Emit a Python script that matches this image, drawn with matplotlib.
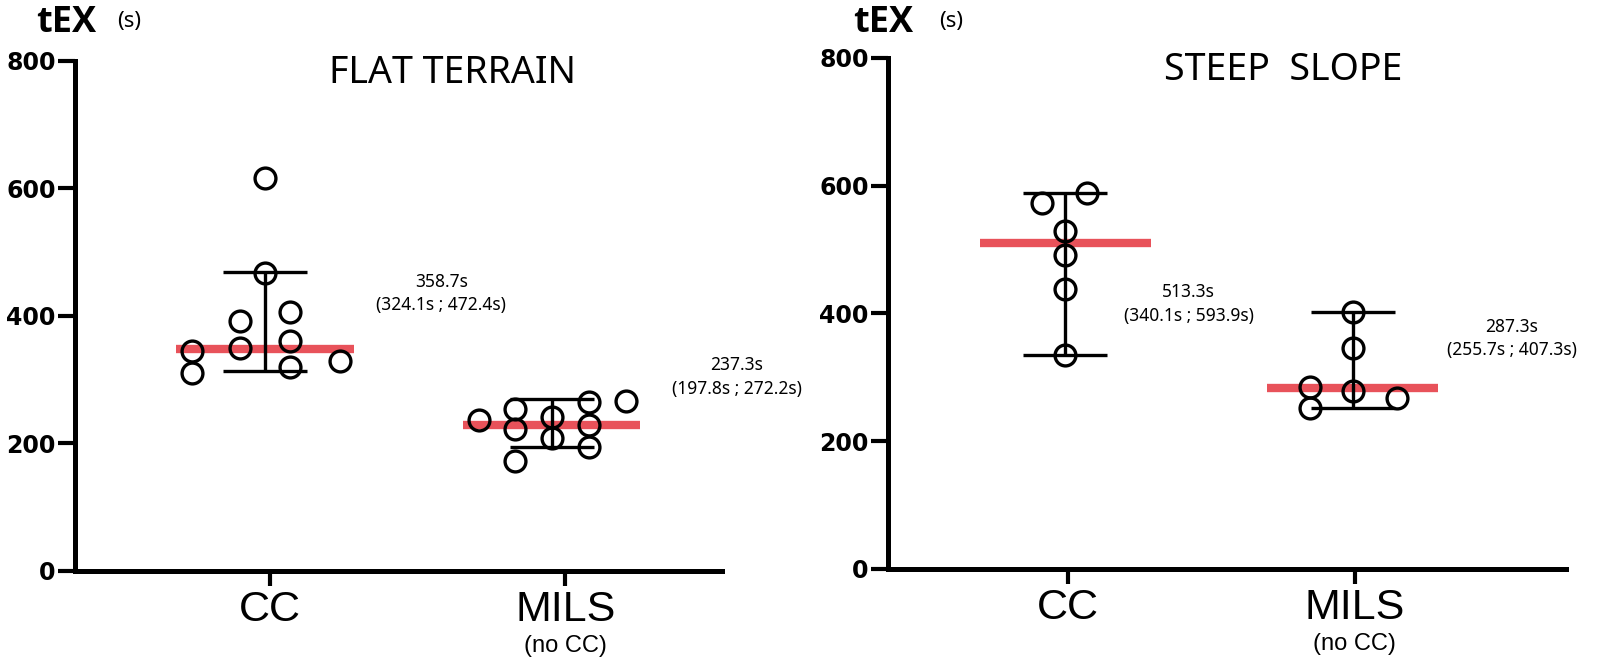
import matplotlib.pyplot as plt
import numpy as np

groups = ['CC', 'MILS']

# flat terrain
flat_cc = [616, 467, 392, 406, 350, 361, 345, 310, 320, 329]
flat_cc_dx = [-0.017, -0.017, -0.101, 0.068, -0.101, 0.068, -0.264, -0.264, 0.068, 0.236]
flat_mils = [237, 254, 223, 241, 209, 265, 229, 195, 267, 173]
flat_mils_dx = [-0.294, -0.172, -0.172, -0.047, -0.047, 0.081, 0.081, 0.081, 0.206, -0.172]
flat_median = [348, 229]
flat_low = [314, 195]
flat_high = [469, 270]
flat_notes = ['358.7s\n(324.1s ; 472.4s)', '237.3s\n(197.8s ; 272.2s)']

# steep slope
steep_cc = [588, 573, 529, 491, 438, 335]
steep_cc_dx = [0.066, -0.091, -0.010, -0.010, -0.010, -0.010]
steep_mils = [402, 346, 279, 285, 252, 268]
steep_mils_dx = [-0.007, -0.007, -0.007, -0.157, -0.157, 0.147]
steep_median = [510, 283]
steep_low = [335, 252]
steep_high = [588, 402]
steep_notes = ['513.3s\n(340.1s ; 593.9s)', '287.3s\n(255.7s ; 407.3s)']

RED = '#e8525a'
FONT = ['Liberation Sans Narrow', 'Liberation Sans', 'DejaVu Sans']


def panel(ax, pts, dxs, median, low, high, notes, title, centers, note_pos, xlim):
    for i, (vals, dx) in enumerate(zip(pts, dxs)):
        x0 = i + 1
        c = x0 + centers[i]
        ax.hlines(median[i], c - 0.3, c + 0.3, color=RED, lw=6, zorder=1)
        ax.errorbar([c], [median[i]], yerr=[[median[i] - low[i]], [high[i] - median[i]]],
                    fmt='none', ecolor='black', elinewidth=2.4, capsize=30, capthick=2.4, zorder=2)
        ax.plot(x0 + np.array(dx), vals, 'o', ms=15, mfc='none', mec='black', mew=2.4, zorder=3)
        ax.text(note_pos[i][0], note_pos[i][1], notes[i], ha='center', va='center',
                fontsize=12.5, linespacing=1.4, family=['Noto Sans', 'DejaVu Sans'])

    ax.set_xlim(*xlim)
    ax.set_ylim(0, 800)
    ax.set_yticks([0, 200, 400, 600, 800])
    ax.set_xticks([1, 2])
    ax.set_xticklabels(groups, fontsize=31, family=FONT)
    for lab in ax.get_yticklabels():
        lab.set_fontweight('bold')
        lab.set_fontsize(17)
    for s in ['top', 'right']:
        ax.spines[s].set_visible(False)
    for s in ['left', 'bottom']:
        ax.spines[s].set_linewidth(3.6)
    ax.tick_params(axis='y', length=12, width=3, pad=2)
    ax.tick_params(axis='x', length=11, width=3, pad=3)
    ax.text(2, -0.147, '(no CC)', transform=ax.get_xaxis_transform(), ha='center',
            va='center', fontsize=17, family=FONT)
    ax.text(0.583, 0.976, title, transform=ax.transAxes, ha='center', va='center',
            fontsize=27, family=['Noto Sans', 'DejaVu Sans'])


fig = plt.figure(figsize=(16, 6.6), dpi=100)
ax1 = fig.add_axes([0.0469, 0.135, 0.4044, 0.7727])
ax2 = fig.add_axes([0.555, 0.138, 0.424, 0.7743])

panel(ax1, [flat_cc, flat_mils], [flat_cc_dx, flat_mils_dx], flat_median, flat_low, flat_high,
      flat_notes, 'FLAT TERRAIN', [-0.017, -0.047], [(1.58, 435), (2.58, 304)], (0.34, 2.53))
panel(ax2, [steep_cc, steep_mils], [steep_cc_dx, steep_mils_dx], steep_median, steep_low, steep_high,
      steep_notes, 'STEEP  SLOPE', [-0.010, -0.007], [(1.42, 415), (2.55, 361)], (0.37, 2.74))

for ax, (xt, xs, yb) in [(ax1, (-0.060, 0.065, 1.057)), (ax2, (-0.052, 0.075, 1.051))]:
    ax.text(xt, yb, 'tEX', transform=ax.transAxes, ha='left', va='baseline',
            fontsize=26, fontweight='bold', family=['Open Sans', 'DejaVu Sans'])
    ax.text(xs, yb + 0.01, '(s)', transform=ax.transAxes, ha='left', va='baseline',
            fontsize=16, family=['Noto Sans', 'DejaVu Sans'])

fig.savefig('out.png', dpi=100)
